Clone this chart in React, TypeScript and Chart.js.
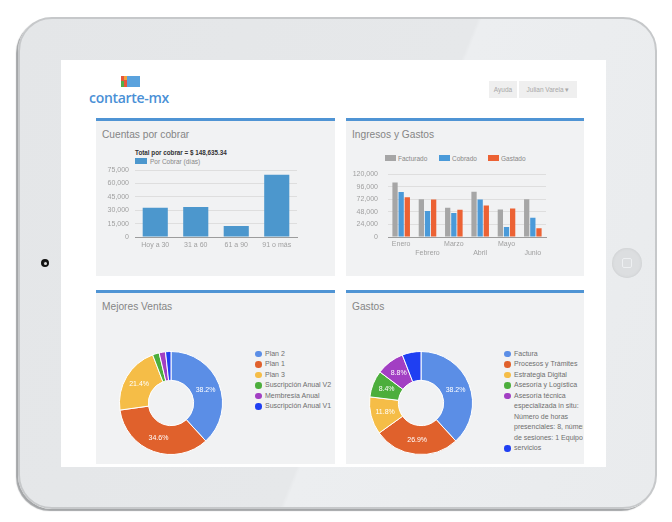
import React, { useEffect, useRef } from "react";
import { Chart, registerables } from "chart.js";

Chart.register(...registerables);

// ---------- data ----------
const agingCategories = ["Hoy a 30", "31 a 60", "61 a 90", "91 o más"];
const agingValues = [32800, 33600, 12300, 69935.34];
const agingTicks = [0, 15000, 30000, 45000, 60000, 75000];
const agingSeries = "Por Cobrar (días)";

const months = ["Enero", "Febrero", "Marzo", "Abril", "Mayo", "Junio"];
const facturado = [104000, 72000, 55800, 86400, 52700, 72000];
const cobrado = [85800, 49500, 45700, 71800, 19300, 36800];
const gastado = [76000, 71800, 52000, 60400, 54300, 16700];
const ingresosTicks = [0, 24000, 48000, 72000, 96000, 120000];
const ingresosSeries = ["Facturado", "Cobrado", "Gastado"];

const ventasLabels = ["Plan 2", "Plan 1", "Plan 3", "Suscripción Anual V2", "Membresía Anual", "Suscripción Anual V1"];
const ventasValues = [38.2, 34.6, 21.4, 2.1, 2.0, 1.7];

const gastosLabels = [
  "Factura",
  "Procesos y Trámites",
  "Estrategia Digital",
  "Asesoría y Logística",
  ["Asesoría técnica", "especializada in situ:", "Número de horas", "presenciales: 8, número", "de sesiones: 1 Equipo"],
  "servicios",
];
const gastosValues = [38.2, 26.9, 11.8, 8.4, 8.8, 5.9];

// ---------- styles ----------
const FONT = "'Liberation Sans', Arial, sans-serif";
const pieColors = ["#5b8ee6", "#e0612c", "#f5bd47", "#4cae3c", "#a23fc3", "#1f3ff2"];
const barColors = ["#a6a6a6", "#4a9ad9", "#ec6234"];
const BLUE_BAR = "#4c97cd";

const fmt = (v: number) => v.toLocaleString("en-US");

const sliceLabelPlugin = {
  id: "sliceLabels",
  afterDatasetsDraw(chart: any) {
    const ctx = chart.ctx;
    const vals = chart.data.datasets[0].data as number[];
    const total = vals.reduce((a, b) => a + b, 0);
    const meta = chart.getDatasetMeta(0);
    ctx.save();
    ctx.fillStyle = "#ffffff";
    ctx.font = `7px ${FONT}`;
    ctx.textAlign = "center";
    ctx.textBaseline = "middle";
    meta.data.forEach((arc: any, i: number) => {
      const pct = (vals[i] / total) * 100;
      if (pct < 7) return;
      const p = arc.tooltipPosition(false);
      ctx.fillText(pct.toFixed(1) + "%", p.x, p.y);
    });
    ctx.restore();
  },
};

function ChartCanvas({ left, top, width, height, make }: any) {
  const ref = useRef<HTMLCanvasElement>(null);
  useEffect(() => {
    const chart = new Chart(ref.current as HTMLCanvasElement, make());
    return () => chart.destroy();
  }, []);
  return (
    <canvas
      ref={ref}
      width={width}
      height={height}
      style={{ position: "absolute", left, top, width, height, display: "block" }}
    />
  );
}

const tickFont = { family: FONT, size: 7 };

function agingConfig(): any {
  return {
    type: "bar",
    data: {
      labels: agingCategories,
      datasets: [
        {
          label: agingSeries,
          data: agingValues,
          backgroundColor: BLUE_BAR,
          barPercentage: 0.62,
          categoryPercentage: 1,
        },
      ],
    },
    options: {
      responsive: false,
      animation: false,
      layout: { padding: { top: 7, right: 33, left: 0, bottom: 0 } },
      plugins: { legend: { display: false }, tooltip: { enabled: false } },
      scales: {
        x: {
          grid: { display: false, drawTicks: false },
          border: { color: "#9c9c9c" },
          ticks: { font: tickFont, color: "#a0a0a0", padding: 4, maxRotation: 0, autoSkip: false },
          afterFit: (s: any) => {
            s.height = 18;
          },
        },
        y: {
          min: 0,
          max: 75000,
          afterBuildTicks: (s: any) => {
            s.ticks = agingTicks.map((v) => ({ value: v }));
          },
          grid: { color: "#dedede", drawTicks: false },
          border: { display: false },
          ticks: { font: tickFont, color: "#a0a0a0", padding: 6, callback: (v: any) => fmt(v) },
          afterFit: (s: any) => {
            s.width = 35;
          },
        },
      },
    },
  };
}

function ingresosConfig(): any {
  const series = [facturado, cobrado, gastado];
  return {
    type: "bar",
    data: {
      labels: months.map((m, i) => (i % 2 === 1 ? ["", m] : m)),
      datasets: series.map((d, i) => ({
        label: ingresosSeries[i],
        data: d,
        backgroundColor: barColors[i],
        barPercentage: 0.86,
        categoryPercentage: 0.7,
      })),
    },
    options: {
      responsive: false,
      animation: false,
      layout: { padding: { top: 7, right: 36, left: 0, bottom: 0 } },
      plugins: { legend: { display: false }, tooltip: { enabled: false } },
      scales: {
        x: {
          grid: { display: false, drawTicks: false },
          border: { color: "#9c9c9c" },
          ticks: { font: tickFont, color: "#a0a0a0", padding: 3, maxRotation: 0, autoSkip: false },
          afterFit: (s: any) => {
            s.height = 28;
          },
        },
        y: {
          min: 0,
          max: 120000,
          afterBuildTicks: (s: any) => {
            s.ticks = ingresosTicks.map((v) => ({ value: v }));
          },
          grid: { color: "#dedede", drawTicks: false },
          border: { display: false },
          ticks: { font: tickFont, color: "#a0a0a0", padding: 10, callback: (v: any) => fmt(v) },
          afterFit: (s: any) => {
            s.width = 42;
          },
        },
      },
    },
  };
}

function pieConfig(labels: any[], values: number[]): any {
  return {
    type: "doughnut",
    data: {
      labels,
      datasets: [
        {
          data: values,
          backgroundColor: pieColors,
          borderColor: "#ffffff",
          borderWidth: 1,
        },
      ],
    },
    options: {
      responsive: false,
      animation: false,
      cutout: "44%",
      layout: { padding: 3 },
      plugins: { legend: { display: false }, tooltip: { enabled: false } },
    },
    plugins: [sliceLabelPlugin],
  };
}

// ---------- layout pieces ----------
const abs = (left: number, top: number, w?: number, h?: number, extra: any = {}) => ({
  position: "absolute" as const,
  left,
  top,
  width: w,
  height: h,
  ...extra,
});

function Panel({ left, top, width, height, title }: any) {
  return (
    <div style={abs(left, top, width, height, { background: "#f1f2f3", borderTop: "3px solid #4f94d4", boxSizing: "border-box" })}>
      <div
        style={abs(6, 7, undefined, undefined, {
          fontFamily: FONT,
          fontSize: 10.2,
          color: "#858585",
          whiteSpace: "nowrap",
          lineHeight: "13px",
        })}
      >
        {title}
      </div>
    </div>
  );
}

function PieLegend({ left, top, labels, width }: any) {
  return (
    <div style={abs(left, top, width, undefined, { fontFamily: FONT, fontSize: 7, color: "#6e6e6e", overflow: "hidden" })}>
      {labels.map((l: any, i: number) => {
        const lines = Array.isArray(l) ? l : [l];
        return (
          <div key={i} style={{ position: "relative", paddingLeft: 10, lineHeight: "10.5px", whiteSpace: "nowrap" }}>
            <span
              style={{
                position: "absolute",
                left: 0,
                top: 2,
                width: 6.5,
                height: 6.5,
                borderRadius: "50%",
                background: pieColors[i],
              }}
            />
            {lines.map((t: string, j: number) => (
              <div key={j}>{t}</div>
            ))}
          </div>
        );
      })}
    </div>
  );
}

export default function App() {
  const total = agingValues.reduce((a, b) => a + b, 0);
  const totalText =
    "Total por cobrar = $ " + total.toLocaleString("en-US", { minimumFractionDigits: 2, maximumFractionDigits: 2 });

  return (
    <div style={abs(0, 0, 672, 522, { background: "#ffffff", overflow: "hidden", fontFamily: FONT })}>
      {/* tablet frame */}
      <div
        style={abs(18, 17, 639, 492, {
          boxSizing: "border-box",
          borderRadius: 34,
          background: "linear-gradient(112deg, #e4e6e8 0%, #e6e8ea 55%, #eceef0 55.5%, #e9ebed 100%)",
          border: "2px solid #c6c8ca",
          boxShadow: "-2px 2px 1px #a4a6a8",
        })}
      />
      {/* camera */}
      <div style={abs(41, 259, 8, 8, { borderRadius: "50%", background: "#222", boxSizing: "border-box", border: "2px solid #111" })} />
      <div style={abs(43.5, 261.5, 3, 3, { borderRadius: "50%", background: "#ddd" })} />
      {/* home button */}
      <div
        style={abs(612, 248, 30, 30, {
          borderRadius: "50%",
          background: "#dcdee0",
          boxShadow: "inset 0 0 3px #c8cacc",
        })}
      />
      <div style={abs(622, 258, 10, 10, { borderRadius: 2, border: "1.5px solid #eef0f2", boxSizing: "border-box" })} />

      {/* screen */}
      <div style={abs(61, 60, 545, 407, { background: "#ffffff" })} />

      {/* logo */}
      <div style={abs(121, 76, 6, 11, { background: "#e7573a" })} />
      <div style={abs(121, 81, 3, 6, { background: "#52b04a" })} />
      <div style={abs(124, 76, 3, 4, { background: "#f2a33a" })} />
      <div style={abs(127, 76, 13, 11, { background: "#5aa2dd" })} />
      <div
        style={abs(89, 89, undefined, undefined, {
          fontFamily: "'Open Sans', sans-serif",
          fontWeight: 600,
          fontSize: 14,
          color: "#4a90d6",
          letterSpacing: -0.3,
          lineHeight: "18px",
          whiteSpace: "nowrap",
        })}
      >
        contarte-mx
      </div>

      {/* header buttons */}
      <div
        style={abs(489, 81, 28, 17, {
          background: "#efefef",
          fontSize: 6.5,
          color: "#a8a8a8",
          textAlign: "center",
          lineHeight: "17px",
        })}
      >
        Ayuda
      </div>
      <div
        style={abs(519, 81, 58, 17, {
          background: "#efefef",
          fontSize: 6.5,
          color: "#a8a8a8",
          textAlign: "center",
          lineHeight: "17px",
          whiteSpace: "nowrap",
        })}
      >
        Julian Varela ▾
      </div>

      {/* panels */}
      <Panel left={96} top={118} width={239} height={158} title="Cuentas por cobrar" />
      <Panel left={346} top={118} width={238} height={158} title="Ingresos y Gastos" />
      <Panel left={96} top={290} width={239} height={174} title="Mejores Ventas" />
      <Panel left={346} top={290} width={238} height={174} title="Gastos" />

      {/* chart 1 title + legend */}
      <div
        style={abs(135, 147.5, undefined, undefined, {
          fontSize: 6.3,
          fontWeight: 700,
          color: "#333",
          whiteSpace: "nowrap",
          lineHeight: "9px",
        })}
      >
        {totalText}
      </div>
      <div style={abs(135, 158, 12, 6, { background: BLUE_BAR })} />
      <div style={abs(150, 156.5, undefined, undefined, { fontSize: 6.5, color: "#888", whiteSpace: "nowrap", lineHeight: "9px" })}>
        {agingSeries}
      </div>
      <ChartCanvas left={100} top={160} width={230} height={95} make={agingConfig} />

      {/* chart 2 legend */}
      {ingresosSeries.map((s, i) => {
        const x = [385, 439, 488][i];
        return (
          <React.Fragment key={s}>
            <div style={abs(x, 155, 11, 6, { background: barColors[i] })} />
            <div style={abs(x + 13, 153.5, undefined, undefined, { fontSize: 6.5, color: "#888", whiteSpace: "nowrap", lineHeight: "9px" })}>
              {s}
            </div>
          </React.Fragment>
        );
      })}
      <ChartCanvas left={346} top={160} width={236} height={105} make={ingresosConfig} />

      {/* doughnuts */}
      <ChartCanvas left={116} top={348} width={110} height={110} make={() => pieConfig(ventasLabels, ventasValues)} />
      <PieLegend left={255} top={348.5} width={78} labels={ventasLabels} />

      <ChartCanvas left={366} top={348} width={110} height={110} make={() => pieConfig(gastosLabels, gastosValues)} />
      <PieLegend left={504} top={348.5} width={79} labels={gastosLabels} />
    </div>
  );
}
